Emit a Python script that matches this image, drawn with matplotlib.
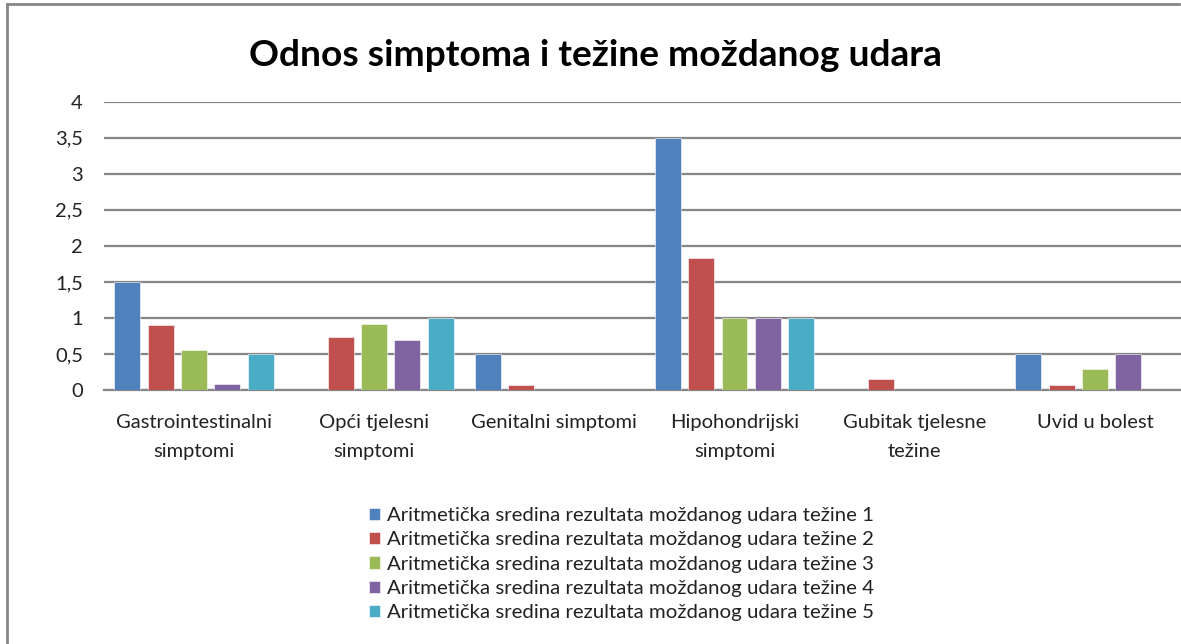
import matplotlib
matplotlib.use("Agg")
import matplotlib.pyplot as plt
import numpy as np

categories = ["Gastrointestinalni\nsimptomi", "Opći tjelesni\nsimptomi", "Genitalni simptomi",
              "Hipohondrijski\nsimptomi", "Gubitak tjelesne\ntežine", "Uvid u bolest"]
series_names = ["Aritmetička sredina rezultata moždanog udara težine 1",
                "Aritmetička sredina rezultata moždanog udara težine 2",
                "Aritmetička sredina rezultata moždanog udara težine 3",
                "Aritmetička sredina rezultata moždanog udara težine 4",
                "Aritmetička sredina rezultata moždanog udara težine 5"]
tezina1 = [1.5, 0, 0.5, 3.5, 0, 0.5]
tezina2 = [0.9, 0.74, 0.07, 1.83, 0.15, 0.07]
tezina3 = [0.56, 0.92, 0, 1.0, 0, 0.29]
tezina4 = [0.09, 0.69, 0, 1.0, 0, 0.5]
tezina5 = [0.5, 1.0, 0, 1.0, 0, 0]
series = [tezina1, tezina2, tezina3, tezina4, tezina5]
yticks = [0, 0.5, 1, 1.5, 2, 2.5, 3, 3.5, 4]
ytick_labels = ["0", "0,5", "1", "1,5", "2", "2,5", "3", "3,5", "4"]
colors = ["#4F81BD", "#C0504D", "#9BBB59", "#8064A2", "#4BACC6"]

plt.rcParams['font.family'] = ['Lato', 'DejaVu Sans']

W, H = 1181, 644
fig = plt.figure(figsize=(W / 100, H / 100), dpi=100)
left, right, top, bottom = 103.8, 1185, 101.7, 390
ax = fig.add_axes([left / W, 1 - bottom / H, (right - left) / W, (bottom - top) / H])

x = np.arange(len(categories))
step = 0.185
bw = 0.144
for i, (vals, c, name) in enumerate(zip(series, colors, series_names)):
    ax.bar(x + (i - 2) * step, vals, width=bw, color=c, label=name, zorder=3,
           edgecolor="white", linewidth=0.4)

ax.set_xlim(-0.5, len(categories) - 0.5)
ax.set_ylim(0, 4)
ax.set_yticks(yticks)
ax.set_yticklabels(ytick_labels, fontsize=14.5, color="#222222")
ax.set_xticks(x)
ax.set_xticklabels(categories, fontsize=14.5, color="#222222", linespacing=1.85)
ax.tick_params(axis='both', length=0)
ax.tick_params(axis='y', pad=15)
ax.tick_params(axis='x', pad=17.5)
ax.yaxis.grid(True, color="#868686", linewidth=1.6, zorder=0)
ax.set_axisbelow(True)
for s in ["top", "right", "left"]:
    ax.spines[s].set_visible(False)
ax.spines["bottom"].set_color("#868686")
ax.spines["bottom"].set_linewidth(1.6)

fig.text(595 / W, 1 - 56 / H, "Odnos simptoma i težine moždanog udara", ha="center", va="center",
         fontsize=26.7, fontweight="bold", color="black")

handles, labels = ax.get_legend_handles_labels()
leg = fig.legend(handles, labels, loc="upper left", bbox_to_anchor=(369 / W, 1 - 507 / H),
                 frameon=False, fontsize=14.7, handlelength=0.55, handleheight=0.55,
                 handletextpad=0.35, labelspacing=0.36, borderpad=0, borderaxespad=0)
for t in leg.get_texts():
    t.set_color("#222222")

fig.add_artist(plt.Line2D([7 / W, 7 / W], [0, 1 - 4 / H], transform=fig.transFigure, color="#868686", linewidth=2))
fig.add_artist(plt.Line2D([7 / W, 1179 / W], [1 - 4 / H, 1 - 4 / H], transform=fig.transFigure, color="#868686", linewidth=2))

fig.savefig("out.png", dpi=100)
